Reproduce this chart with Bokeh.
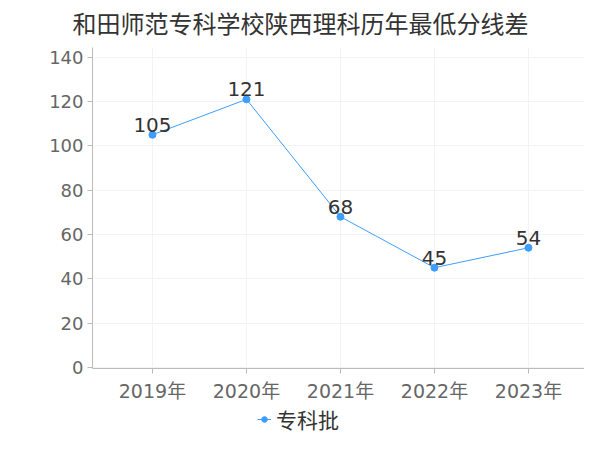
from bokeh.plotting import figure
from bokeh.layouts import column
from bokeh.models import ColumnDataSource, FixedTicker, Range1d, Legend, LegendItem
from bokeh.embed import file_html
from bokeh.resources import INLINE
from bokeh.core.properties import value

years = ["2019年", "2020年", "2021年", "2022年", "2023年"]
scores = [105, 121, 68, 45, 54]
series_name = "专科批"
y_ticks = [0, 20, 40, 60, 80, 100, 120, 140]
title_text = "和田师范专科学校陕西理科历年最低分线差"

xs = list(range(len(years)))
src = ColumnDataSource(dict(x=xs, y=scores, lbl=[str(s) for s in scores]))

FONT = "'DejaVu Sans', 'Noto Sans CJK SC'"
BLUE = "#3d9eff"

p = figure(width=584, height=404, output_backend="svg", toolbar_location=None,
           x_range=Range1d(-0.638, 4.596), y_range=Range1d(-0.5, 144.4),
           title=title_text,
           min_border_left=92, min_border_right=0, min_border_top=44, min_border_bottom=34)
p.outline_line_color = None
p.background_fill_color = "white"

p.title.align = "left"
p.title.offset = -20
p.title.standoff = 17
p.title.text_font = FONT
p.title.text_font_size = "24px"
p.title.text_font_style = "normal"
p.title.text_color = "#333333"

r_line = p.line("x", "y", source=src, line_color=BLUE, line_width=1)
r_pt = p.scatter("x", "y", source=src, size=7, fill_color=BLUE, line_color=BLUE)
p.text("x", "y", text="lbl", source=src, text_align="center", text_baseline="bottom",
       y_offset=-3, text_font=value(FONT), text_font_size="20px", text_color="#333333")

p.xaxis.ticker = FixedTicker(ticks=xs)
p.xaxis.major_label_overrides = {i: y for i, y in enumerate(years)}
p.yaxis.ticker = FixedTicker(ticks=y_ticks)
for ax in (p.xaxis, p.yaxis):
    ax.axis_line_color = "#bbbbbb"
    ax.major_tick_line_color = "#bbbbbb"
    ax.minor_tick_line_color = None
    ax.major_tick_in = 0
    ax.major_tick_out = 5
    ax.major_label_text_font = FONT
    ax.major_label_text_color = "#666666"
p.xaxis.major_label_text_font_size = "19px"
p.yaxis.major_label_text_font_size = "18px"
p.xaxis.major_label_standoff = 6
p.yaxis.major_label_standoff = 4

p.xgrid.ticker = FixedTicker(ticks=xs)
p.xgrid.grid_line_color = "#f3f3f3"
p.ygrid.grid_line_color = "#f3f3f3"

# legend strip below the chart
p2 = figure(width=584, height=30, output_backend="svg", toolbar_location=None,
            x_range=Range1d(0, 584), y_range=Range1d(0, 30),
            x_axis_type=None, y_axis_type=None,
            min_border_left=0, min_border_right=0, min_border_top=0, min_border_bottom=0)
p2.outline_line_color = None
p2.grid.visible = False
l2 = p2.line([-20, -10], [-20, -20], line_color=BLUE, line_width=1)
s2 = p2.scatter([-15], [-20], size=7, fill_color=BLUE, line_color=BLUE)
legend = Legend(items=[LegendItem(label=series_name, renderers=[l2, s2])],
                location=(165, 0), orientation="horizontal",
                label_text_font="Noto Sans CJK SC", label_text_font_size="21px",
                label_text_color="#333333",
                border_line_color=None, background_fill_alpha=0, glyph_width=14,
                label_standoff=5, margin=0, padding=0)
p2.add_layout(legend)

layout = column(p, p2, spacing=0)
open("out.html", "w").write(file_html(layout, INLINE))
